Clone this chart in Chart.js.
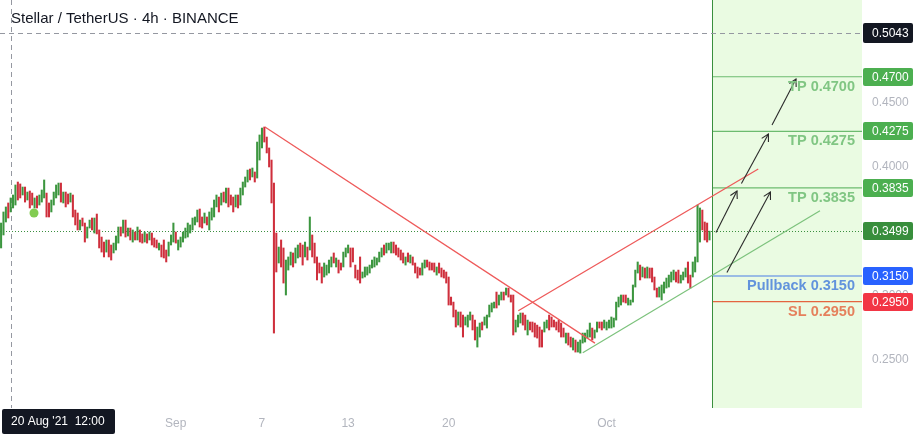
<!DOCTYPE html>
<html><head><meta charset="utf-8">
<script src="https://cdn.jsdelivr.net/npm/chart.js@4.4.1/dist/chart.umd.min.js"></script>
<style>html,body{margin:0;padding:0;background:#fff;overflow:hidden}canvas{display:block}</style>
</head><body>
<canvas id="c" width="917" height="434"></canvas>
<script>
// ---------- data ----------
const chartTitle = 'Stellar / TetherUS · 4h · BINANCE';
// x values are days counted from 1 Sep 2021 00:00; candles are 4h apart starting 19 Aug 20:00
const firstCandleDay = -12.1667;
const candleStepDays = 1 / 6;
const opens = [
.3368,.3469,.3570,.3718,.3648,.3679,.3702,.3881,.3866,.3780,
.3842,.3741,.3811,.3795,.3679,.3772,.3702,.3725,.3757,.3795,
.3718,.3648,.3702,.3757,.3780,.3873,.3718,.3803,.3788,.3725,
.3780,.3663,.3640,.3508,.3601,.3562,.3445,.3523,.3601,.3484,
.3632,.3508,.3453,.3414,.3336,.3430,.3391,.3329,.3352,.3406,
.3531,.3484,.3585,.3461,.3523,.3414,.3492,.3430,.3508,.3477,
.3414,.3477,.3430,.3484,.3445,.3430,.3352,.3391,.3430,.3352,
.3305,.3391,.3414,.3492,.3352,.3375,.3414,.3445,.3453,.3484,
.3508,.3547,.3570,.3671,.3609,.3562,.3609,.3508,.3585,.3609,
.3687,.3764,.3702,.3803,.3718,.3834,.3780,.3764,.3687,.3780,
.3702,.3780,.3842,.3881,.3982,.3920,.3959,.3912,.4052,.4146,
.4309,.4231,.4146,.4052,.3873,.3484,.3251,.3430,.3368,.3002,
.3196,.3235,.3329,.3251,.3290,.3406,.3391,.3298,.3375,.3352,
.3469,.3406,.3298,.3251,.3220,.3142,.3157,.3173,.3220,.3329,
.3220,.3274,.3251,.3220,.3298,.3329,.3368,.3368,.3235,.3196,
.3298,.3134,.3142,.3157,.3173,.3212,.3220,.3235,.3259,.3298,
.3391,.3329,.3352,.3329,.3414,.3391,.3368,.3352,.3329,.3235,
.3329,.3251,.3298,.3251,.3220,.3212,.3157,.3212,.3274,.3259,
.3251,.3251,.3157,.3251,.3212,.3196,.3181,.3142,.2986,.2947,
.2885,.2768,.2870,.2846,.2768,.2753,.2807,.2846,.2807,.2597,
.2675,.2792,.2768,.2745,.2831,.2870,.2901,.3025,.2924,.2963,
.3025,.3002,.3056,.3002,.3002,.2714,.2753,.2784,.2862,.2846,
.2691,.2792,.2792,.2784,.2768,.2753,.2730,.2714,.2745,.2846,
.2831,.2807,.2792,.2807,.2784,.2745,.2628,.2706,.2675,.2574,
.2652,.2558,.2550,.2628,.2636,.2667,.2675,.2745,.2667,.2714,
.2792,.2792,.2745,.2730,.2745,.2745,.2753,.2807,.2909,.2924,
.3002,.3002,.2924,.2924,.2947,.3064,.3173,.3235,.3142,.3212,
.3134,.3212,.3212,.3142,.3056,.2986,.2963,.3017,.3056,.3064,
.3103,.3119,.3181,.3196,.3095,.3119,.3142,.3259,.3157,.3142,
.3181,.3259,.3414,.3663,.3570,.3562,.3430
];
const closes = [
.3562,.3648,.3687,.3601,.3757,.3780,.3858,.3741,.3757,.3842,
.3725,.3803,.3679,.3702,.3757,.3679,.3780,.3819,.3897,.3609,
.3609,.3741,.3803,.3858,.3873,.3725,.3803,.3687,.3710,.3795,
.3609,.3547,.3508,.3585,.3539,.3414,.3531,.3585,.3508,.3601,
.3477,.3368,.3336,.3298,.3430,.3298,.3274,.3406,.3461,.3531,
.3461,.3585,.3453,.3523,.3430,.3508,.3430,.3531,.3414,.3406,
.3492,.3406,.3492,.3391,.3375,.3368,.3406,.3298,.3290,.3259,
.3414,.3469,.3562,.3406,.3430,.3453,.3492,.3523,.3562,.3547,
.3601,.3609,.3663,.3531,.3523,.3640,.3547,.3648,.3679,.3741,
.3780,.3648,.3795,.3725,.3834,.3687,.3702,.3648,.3780,.3679,
.3834,.3881,.3920,.3974,.3897,.3990,.3881,.4192,.4247,.4301,
.4192,.4107,.3998,.3718,.2706,.3181,.3375,.3220,.3095,.3274,
.3298,.3336,.3220,.3368,.3391,.3298,.3235,.3414,.3274,.3609,
.3298,.3251,.3119,.3173,.3095,.3251,.3235,.3274,.3298,.3251,
.3290,.3173,.3196,.3336,.3368,.3391,.3220,.3259,.3134,.3119,
.3095,.3181,.3220,.3220,.3235,.3274,.3298,.3290,.3336,.3368,
.3313,.3406,.3406,.3414,.3329,.3313,.3298,.3274,.3251,.3298,
.3259,.3313,.3235,.3173,.3134,.3157,.3251,.3274,.3220,.3196,
.3196,.3181,.3220,.3173,.3142,.3134,.3095,.2924,.2924,.2831,
.2753,.2870,.2753,.2675,.2831,.2846,.2870,.2730,.2652,.2753,
.2784,.2730,.2831,.2846,.2924,.2940,.2947,.2901,.3002,.3025,
.2963,.3056,.2986,.2947,.2691,.2807,.2846,.2862,.2768,.2730,
.2807,.2730,.2714,.2675,.2667,.2597,.2597,.2792,.2807,.2730,
.2753,.2753,.2730,.2714,.2675,.2675,.2706,.2613,.2597,.2667,
.2558,.2636,.2652,.2706,.2706,.2730,.2784,.2652,.2730,.2792,
.2745,.2730,.2807,.2792,.2807,.2831,.2823,.2947,.2986,.3002,
.2947,.2940,.2978,.2963,.3080,.3196,.3259,.3119,.3220,.3134,
.3220,.3134,.3103,.3041,.2986,.3064,.3080,.3103,.3134,.3157,
.3181,.3196,.3103,.3095,.3157,.3181,.3212,.3095,.3056,.3259,
.3298,.3702,.3679,.3508,.3430,.3414,.3499
];
const timeTickDays = [0, 6, 12, 19, 30];
const timeTickLabels = ['Sep', '7', '13', '20', 'Oct'];
const priceTicks = [0.25, 0.30, 0.35, 0.40, 0.45, 0.50];
const xMin = -12.242, xMax = 47.786;
const yMin = 0.2123, yMax = 0.5297;
const zoneStartDay = 37.34;
const lastPrice = 0.3499;
const crossDay = -11.5, crossPrice = 0.5043;
const crossLabel = "20 Aug '21  12:00";
const markerPoint = [{x: -9.875, y: 0.3640}];
const trendDown = [{x: 6.21, y: 0.4309}, {x: 29.19, y: 0.2628}];
const trendUpRed = [{x: 23.85, y: 0.2880}, {x: 40.56, y: 0.3982}];
const trendUpGreen = [{x: 28.34, y: 0.2553}, {x: 44.86, y: 0.3658}];
const arrowPaths = [
  [{x: 37.62, y: 0.3488}, {x: 39.08, y: 0.3811}],
  [{x: 39.39, y: 0.3869}, {x: 41.27, y: 0.4254}],
  [{x: 41.52, y: 0.4325}, {x: 43.19, y: 0.4682}],
  [{x: 38.38, y: 0.3177}, {x: 41.41, y: 0.3803}]
];
const levelStartDay = 37.41;
const levelValues = [0.4700, 0.4275, 0.3835, 0.3150, 0.2950];
const levelNames = ['TP', 'TP', 'TP', 'Pullback', 'SL'];
const axisBoxValues = [0.5043, 0.4700, 0.4275, 0.3835, 0.3499, 0.3150, 0.2950];

// ---------- styles ----------
const UP = '#3c963f', DOWN = '#cf2f3c';
const levelLineColors = ['#6cbb6f', '#6cbb6f', '#6cbb6f', '#4a7fe6', '#e4643f'];
const levelTextColors = ['#80c683', '#80c683', '#80c683', '#6293dc', '#e5805c'];
const axisBoxColors = ['#131722', '#4caf50', '#4caf50', '#4caf50', '#388e3c', '#2962ff', '#f23645'];
const FONT = 'Liberation Sans, Arial, sans-serif';

const candleData = opens.map((o, i) => ({x: firstCandleDay + i * candleStepDays, y: [o, closes[i]]}));
const candleColors = opens.map((o, i) => closes[i] >= o ? UP : DOWN);

const datasets = [];
datasets.push({type: 'bar', data: candleData, backgroundColor: candleColors, barThickness: 1.4, borderWidth: 0, order: 20});
const lineDs = (data, color, w, extra) => Object.assign({type: 'line', data, borderColor: color, borderWidth: w, pointRadius: 0, fill: false, tension: 0, order: 5}, extra || {});
datasets.push(lineDs(trendDown, '#ee5a5a', 1.3));
datasets.push(lineDs(trendUpRed, '#ee5a5a', 1.3));
datasets.push(lineDs(trendUpGreen, '#7cc27c', 1.2));
levelValues.forEach((v, i) => datasets.push(lineDs([{x: levelStartDay, y: v}, {x: xMax, y: v}], levelLineColors[i], 1.2)));
arrowPaths.forEach(p => datasets.push(lineDs(p, '#2a2a2a', 1.1, {isArrow: true, order: 2})));
datasets.push({type: 'line', data: markerPoint, showLine: false, pointRadius: 4.5, pointBackgroundColor: '#82cc52', pointBorderWidth: 0, order: 1});

const decor = {
  id: 'decor',
  beforeDatasetsDraw(chart) {
    const {ctx, chartArea: a, scales: {x, y}} = chart;
    ctx.save();
    const zx = x.getPixelForValue(zoneStartDay);
    ctx.fillStyle = '#eafbe2';
    ctx.fillRect(zx, a.top, a.right - zx, a.bottom - a.top);
    ctx.strokeStyle = '#3a8f3e'; ctx.lineWidth = 1;
    ctx.beginPath(); ctx.moveTo(Math.round(zx) + 0.5, a.top); ctx.lineTo(Math.round(zx) + 0.5, a.bottom); ctx.stroke();
    ctx.strokeStyle = '#9598a1'; ctx.setLineDash([5, 4]);
    const cx = Math.round(x.getPixelForValue(crossDay)) + 0.5;
    ctx.beginPath(); ctx.moveTo(cx, a.top); ctx.lineTo(cx, a.bottom); ctx.stroke();
    const cy = Math.round(y.getPixelForValue(crossPrice)) + 0.5;
    ctx.beginPath(); ctx.moveTo(a.left, cy); ctx.lineTo(a.right, cy); ctx.stroke();
    ctx.strokeStyle = '#3b8f3f'; ctx.setLineDash([1, 2]);
    const ly = Math.round(y.getPixelForValue(lastPrice)) + 0.5;
    ctx.beginPath(); ctx.moveTo(a.left, ly); ctx.lineTo(a.right, ly); ctx.stroke();
    ctx.restore();
  },
  afterDatasetsDraw(chart) {
    const {ctx, scales: {x, y}} = chart;
    ctx.save();
    chart.data.datasets.forEach((ds, i) => {
      if (!ds.isArrow) return;
      const pts = chart.getDatasetMeta(i).data;
      const p1 = pts[0], p2 = pts[1];
      const ang = Math.atan2(p2.y - p1.y, p2.x - p1.x);
      const L = 8, s = 0.5;
      ctx.strokeStyle = ds.borderColor; ctx.lineWidth = 1.1;
      ctx.beginPath();
      ctx.moveTo(p2.x - L * Math.cos(ang - s), p2.y - L * Math.sin(ang - s));
      ctx.lineTo(p2.x, p2.y);
      ctx.lineTo(p2.x - L * Math.cos(ang + s), p2.y - L * Math.sin(ang + s));
      ctx.stroke();
    });
    ctx.font = 'bold 14.5px ' + FONT;
    ctx.textAlign = 'right'; ctx.textBaseline = 'middle';
    levelValues.forEach((v, i) => {
      ctx.fillStyle = levelTextColors[i];
      ctx.fillText(levelNames[i] + ' ' + v.toFixed(4), 855, y.getPixelForValue(v) + 10);
    });
    ctx.restore();
  },
  afterDraw(chart) {
    const {ctx, chartArea: a, scales: {x, y}} = chart;
    ctx.save();
    ctx.font = '15px ' + FONT; ctx.fillStyle = '#131722';
    ctx.textAlign = 'left'; ctx.textBaseline = 'alphabetic';
    ctx.fillText(chartTitle, 11, 22.5);
    ctx.font = '12px ' + FONT; ctx.textBaseline = 'middle';
    axisBoxValues.forEach((v, i) => {
      const py = Math.round(y.getPixelForValue(v));
      const h = i === 0 ? 20 : 18;
      ctx.fillStyle = axisBoxColors[i];
      ctx.beginPath();
      ctx.roundRect(a.right + 1, py - h / 2, 50, h, 2);
      ctx.fill();
      ctx.fillStyle = '#ffffff';
      ctx.fillText(v.toFixed(4), a.right + 10, py + 0.5);
    });
    ctx.fillStyle = '#131722';
    ctx.beginPath(); ctx.roundRect(2, a.bottom + 1, 113, 25, 2); ctx.fill();
    ctx.fillStyle = '#ffffff';
    ctx.fillText(crossLabel, 11, a.bottom + 14);
    ctx.restore();
  }
};

const noPad = s => { s.paddingTop = 0; s.paddingBottom = 0; s.paddingLeft = 0; s.paddingRight = 0; };

new Chart(document.getElementById('c'), {
  type: 'bar',
  data: {datasets},
  plugins: [decor],
  options: {
    responsive: false, animation: false, devicePixelRatio: 1,
    layout: {padding: 0, autoPadding: false},
    plugins: {legend: {display: false}, tooltip: {enabled: false}, title: {display: false}},
    scales: {
      x: {
        type: 'linear', min: xMin, max: xMax, offset: false,
        grid: {display: false, drawTicks: false}, border: {display: false},
        afterBuildTicks: s => { s.ticks = timeTickDays.map(v => ({value: v})); },
        afterFit: s => { s.height = 26; noPad(s); },
        ticks: {autoSkip: false, maxRotation: 0, padding: 8, color: '#b2b5be', font: {family: FONT, size: 12},
          callback: (v, i) => timeTickLabels[i]}
      },
      y: {
        type: 'linear', position: 'right', min: yMin, max: yMax,
        grid: {display: false, drawTicks: false}, border: {display: false},
        afterBuildTicks: s => { s.ticks = priceTicks.map(v => ({value: v})); },
        afterFit: s => { s.width = 55; noPad(s); },
        ticks: {padding: 10, color: '#b2b5be', font: {family: FONT, size: 12}, callback: v => v.toFixed(4)}
      }
    }
  }
});
</script>
</body></html>
